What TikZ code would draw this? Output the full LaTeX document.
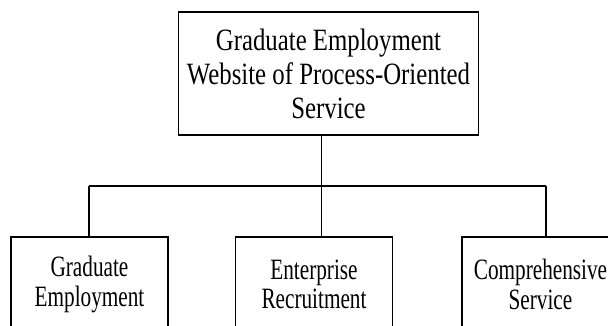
\documentclass[tikz,border=0pt]{standalone}
\usepackage{fontspec}
\setmainfont{Liberation Serif}
\newfontfamily\headfont[FakeStretch=0.8]{Liberation Serif}
\newfontfamily\partfont[FakeStretch=0.72]{Liberation Serif}
\begin{document}
\begin{tikzpicture}[x=1pt, y=-1pt]
        \tikzstyle{head}=[draw, line width=1.2pt, shape=rectangle, minimum width=300pt, minimum height=123pt, align=center, font=\headfont\fontsize{31}{34}\selectfont, inner sep=0pt]
        \tikzstyle{part}=[draw, line width=1.2pt, shape=rectangle, minimum width=157pt, minimum height=95pt, align=center, font=\partfont\fontsize{29.5}{29.5}\selectfont, inner sep=0pt]
        \tikzstyle{link}=[line width=1.2pt]

        \clip (0,0) rectangle (608,326);
        \useasboundingbox (0,0) rectangle (608,326);

        \node[head](site) at (328.5, 73.5){Graduate Employment\\Website of Process-Oriented\\Service};
        \node[part](grad) at (89.5, 284.5){Graduate\\Employment};
        \node[part](ent) at (314, 284.5){Enterprise\\Recruitment};
        \node[part](comp) at (540.5, 284.5){Comprehensive\\Service};

        \coordinate (j-l) at (89, 186);
        \coordinate (j-m) at (321.5, 186);
        \coordinate (j-r) at (546, 186);

        \draw[link] (site.south -| j-m) -- (j-m);
        \draw[link] (j-l) -- (j-r);
        \draw[link] (j-l) -- (j-l |- grad.north);
        \draw[link] (j-m) -- (j-m |- ent.north);
        \draw[link] (j-r) -- (j-r |- comp.north);

        \end{tikzpicture}
\end{document}
